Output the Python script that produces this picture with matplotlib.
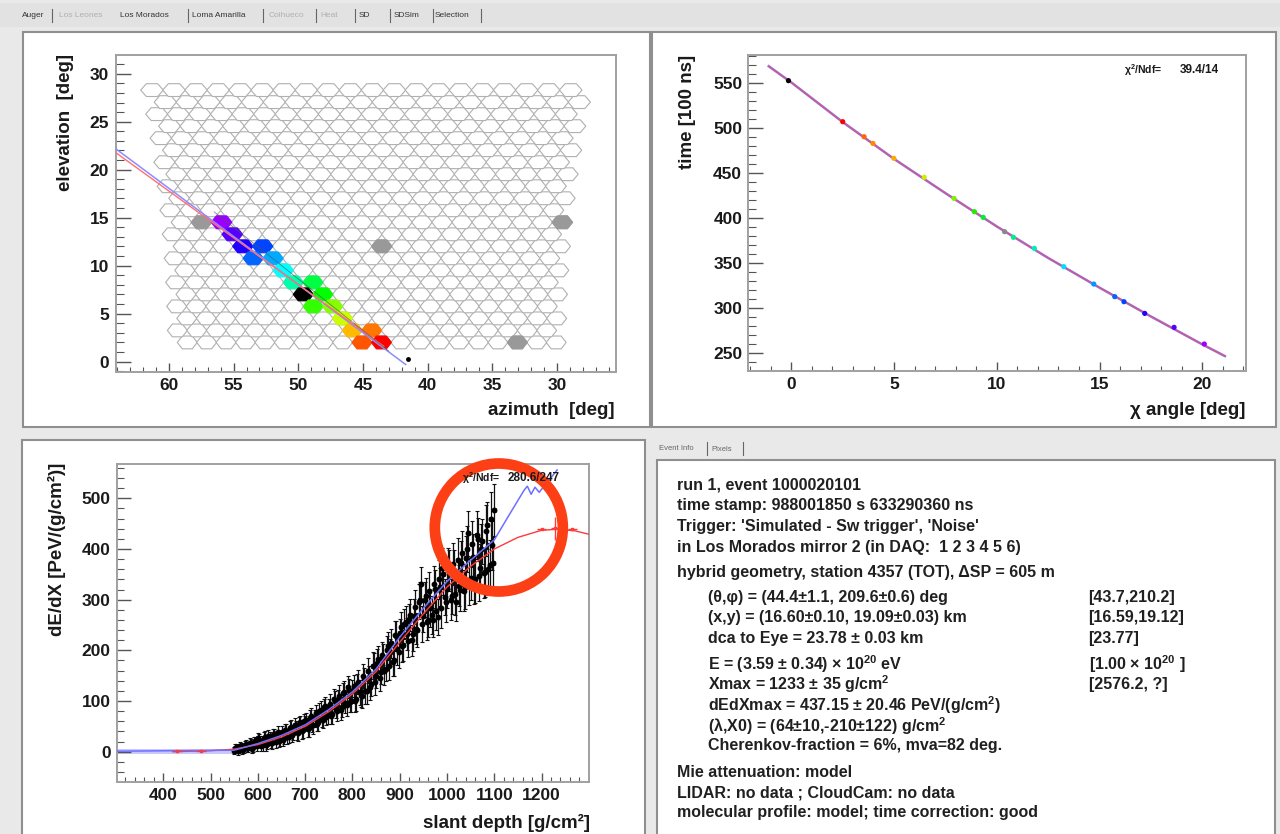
import numpy as np
import matplotlib.pyplot as plt
from matplotlib.patches import Rectangle, Circle
from matplotlib.collections import PolyCollection
from matplotlib.ticker import MultipleLocator

W, H = 1280, 834

plt.rcParams['font.family'] = ['Liberation Sans', 'DejaVu Sans']
plt.rcParams['font.weight'] = 'bold'
plt.rcParams['mathtext.fontset'] = 'custom'
plt.rcParams['mathtext.rm'] = 'Liberation Sans:bold'
plt.rcParams['mathtext.it'] = 'Liberation Sans:bold:italic'
plt.rcParams['mathtext.bf'] = 'Liberation Sans:bold'

# ---- camera (22 rows x 20 columns) and hit pixels
n_rows, n_cols = 22, 20
row_elev0, row_step, cam_centre_az = 2.0, 1.252, 44.7
hit_row = [10, 9, 8, 8, 7, 7, 6, 5, 5, 4, 4, 3, 3, 2, 1, 1, 0, 0]
hit_col = [2, 3, 3, 4, 4, 5, 5, 6, 7, 6, 7, 7, 8, 8, 9, 10, 9, 10]
hit_color = ['#9900ff', '#5500ff', '#2200ff', '#0044ff', '#0066ff', '#00aaff',
             '#00ffff', '#00ffaa', '#00ff44', '#000000', '#00ff00', '#33ff00',
             '#88ff00', '#ccff00', '#ffbb00', '#ff7700', '#ff5500', '#ff0000']
noise_row = [10, 8, 10, 0]
noise_col = [1, 10, 19, 17]
# shower-detector-plane lines
sdp_blue_az = [64.13, 41.7]
sdp_blue_el = [22.2, -0.3]
sdp_red_az = [64.13, 43.4]
sdp_red_el = [21.8, 1.6]

# ---- time fit
chi_deg = [-0.14, 2.5, 3.54, 3.97, 4.99, 6.47, 7.92, 8.91, 9.34, 10.38, 10.81,
           11.83, 13.26, 14.72, 15.74, 16.19, 17.2, 18.63, 20.1]
t_100ns = [553, 507.4, 490.7, 483.3, 466.7, 445.6, 422.2, 407.4, 401.1, 385.2,
           378.9, 366.7, 346.3, 327.0, 313.0, 307.4, 294.4, 278.9, 260.4]
t_colors = ['#000000', '#ff0000', '#ff6600', '#ff8800', '#ffaa00', '#ccee00',
            '#88ee00', '#22ee00', '#00ee33', '#888888', '#00ee88', '#00eebb',
            '#00ddff', '#0099ff', '#0066ff', '#0044ff', '#2200ff', '#5500ff', '#9900ff']
fit_chi = [-1.1, 0, 2.5, 5, 7.5, 10, 12.5, 15, 17.5, 20, 21.1]
fit_t = [569, 551, 507, 466, 428, 391, 356, 323, 291, 260, 247]

# ---- longitudinal profile (two interleaved sets of bins)
depth = list(range(550, 1101, 5))
dedx = [2, 10, 5, 11, 5, 16, 8, 17, 9, 22,
        27, 22, 13, 30, 15, 27, 17, 35, 29, 22,
        38, 27, 41, 30, 48, 36, 48, 36, 58, 43,
        57, 44, 66, 53, 66, 55, 80, 66, 88, 69,
        86, 71, 104, 85, 102, 82, 115, 96, 128, 99,
        120, 100, 134, 117, 109, 143, 120, 148, 133, 169,
        150, 182, 158, 186, 164, 208, 196, 178, 230, 202,
        234, 208, 252, 232, 262, 220, 268, 242, 296, 330,
        268, 308, 260, 283, 260, 321, 266, 325, 362, 305,
        322, 358, 308, 356, 296, 328, 372, 318, 382, 431,
        342, 385, 340, 419, 362, 415, 354, 447, 368, 407,
        477]
dedx_err = [7, 6, 8, 7, 8, 7, 9, 8, 9, 8,
            10, 9, 11, 10, 10, 11, 12, 10, 11, 12,
            12, 11, 13, 12, 14, 12, 13, 14, 13, 15,
            14, 15, 16, 14, 17, 15, 16, 18, 16, 17,
            18, 17, 19, 18, 20, 19, 21, 19, 22, 20,
            21, 22, 20, 24, 22, 23, 25, 22, 24, 26,
            24, 26, 25, 27, 25, 28, 26, 29, 27, 30,
            28, 30, 29, 32, 30, 31, 33, 30, 34, 35,
            32, 34, 33, 36, 34, 37, 35, 38, 40, 36,
            38, 40, 37, 42, 39, 41, 44, 40, 43, 45,
            42, 44, 46, 43, 47, 45, 48, 46, 50, 48,
            52]
depth_b = [550 + 2.5 + 5 * i for i in range(110)]
dedx_b = [8, 1, 12, 4, 14, 7, 18, 6, 20, 11,
          24, 12, 28, 14, 31, 18, 33, 20, 38, 24,
          24, 42, 29, 46, 33, 52, 38, 55, 40, 60,
          62, 46, 70, 52, 76, 58, 82, 63, 90, 72,
          95, 74, 100, 80, 110, 88, 118, 92, 122, 100,
          130, 104, 138, 112, 150, 120, 160, 128, 170, 138,
          176, 146, 190, 160, 200, 170, 214, 180, 228, 196,
          246, 210, 256, 218, 270, 232, 286, 240, 300, 252,
          300, 256, 318, 270, 330, 278, 340, 284, 350, 296,
          362, 300, 370, 312, 378, 320, 392, 326, 400, 336,
          410, 338, 428, 346, 400, 352, 436, 360, 460, 372]
dedx_b_err = [7, 8, 7, 9, 8, 8, 9, 9, 10, 9,
              10, 11, 10, 12, 11, 11, 12, 12, 13, 12,
              12, 13, 13, 14, 13, 14, 15, 14, 15, 15,
              15, 16, 16, 17, 16, 17, 18, 17, 18, 18,
              19, 19, 20, 20, 21, 20, 22, 21, 22, 22,
              22, 23, 23, 24, 24, 25, 25, 26, 26, 27,
              26, 27, 27, 28, 28, 29, 29, 30, 30, 31,
              30, 31, 31, 32, 32, 33, 33, 34, 35, 35,
              35, 36, 36, 37, 37, 38, 38, 39, 40, 40,
              40, 41, 41, 42, 43, 43, 44, 45, 45, 46,
              46, 47, 47, 48, 49, 49, 50, 51, 52, 52]
gh_x = [420, 500, 550, 600, 650, 700, 750, 800, 850, 900, 950, 1000, 1050,
        1100, 1150, 1200, 1233, 1270, 1301]
gh_y = [0, 2, 5, 14, 29, 50, 79, 114, 158, 216, 272, 325, 366, 400, 423, 437,
        439, 436, 429]
blue_x = [302, 550, 600, 650, 700, 750, 800, 850, 900, 950, 1000, 1050, 1100,
          1130, 1163, 1170, 1178, 1186, 1195, 1233]
blue_y = [1, 3, 16, 32, 53, 83, 118, 163, 226, 283, 336, 378, 418, 465, 516,
          524, 508, 522, 512, 556]
red_pt_x = [430, 480, 1200, 1229, 1265]
red_pt_y = [1, 2, 440, 441, 440]
red_pt_err = [0, 0, 0, 23, 0]

info_lines = ["run 1, event 1000020101",
              "time stamp: 988001850 s 633290360 ns",
              "Trigger: 'Simulated - Sw trigger', 'Noise'",
              "in Los Morados mirror 2 (in DAQ:  1 2 3 4 5 6)",
              "hybrid geometry, station 4357 (TOT), ΔSP = 605 m",
              "(θ,φ) = (44.4±1.1, 209.6±0.6) deg",
              "(x,y) = (16.60±0.10, 19.09±0.03) km",
              "dca to Eye = 23.78 ± 0.03 km",
              "E = (3.59 ± 0.34) × 10$^{20}$ eV",
              "Xmax = 1233 ± 35 g/cm$^{2}$",
              "dEdXmax = 437.15 ± 20.46 PeV/(g/cm$^{2}$)",
              "(λ,X0) = (64±10,-210±122) g/cm$^{2}$",
              "Cherenkov-fraction = 6%, mva=82 deg.",
              "Mie attenuation: model",
              "LIDAR: no data ; CloudCam: no data",
              "molecular profile: model; time correction: good"]
info_indent = [0, 0, 0, 0, 0, 1, 1, 1, 1, 1, 1, 1, 1, 0, 0, 0]
info_y = [485, 505.7, 526.7, 547.3, 572.7, 597.3, 617.7, 638.3, 664, 684.3,
          705, 725.7, 745.7, 772.3, 792.7, 812.7]
mc_values = ["[43.7,210.2]", "[16.59,19.12]", "[23.77]",
             "[1.00 × 10$^{20}$ ]", "[2576.2, ?]"]

tabs = ["Auger", "Los Leones", "Los Morados", "Loma Amarilla", "Coihueco",
        "Heat", "SD", "SDSim", "Selection"]
tab_x = [22, 59, 120, 192, 269, 320, 359, 394, 435]
tab_active = [True, False, True, True, False, False, True, True, True]


def px_rect(x0, y0, x1, y1):
    return [x0 / W, 1 - y1 / H, (x1 - x0) / W, (y1 - y0) / H]


def root_style(ax, xmaj, xmin, ymaj, ymin, xlen, ylen):
    for s in ax.spines.values():
        s.set_color('#a0a0a0')
        s.set_linewidth(1.4)
    ax.xaxis.set_major_locator(MultipleLocator(xmaj))
    ax.xaxis.set_minor_locator(MultipleLocator(xmin))
    ax.yaxis.set_major_locator(MultipleLocator(ymaj))
    ax.yaxis.set_minor_locator(MultipleLocator(ymin))
    ax.tick_params(which='both', direction='in', color='#555555',
                   top=False, right=False, labelsize=12.5, labelcolor='#1a1a1a')
    ax.tick_params(axis='x', which='major', length=xlen, width=1.0, pad=4.5)
    ax.tick_params(axis='x', which='minor', length=xlen / 2, width=0.8)
    ax.tick_params(axis='y', which='major', length=ylen, width=1.0, pad=4.5)
    ax.tick_params(axis='y', which='minor', length=ylen / 2, width=0.8)


fig = plt.figure(figsize=(W / 100, H / 100), dpi=100, facecolor='#e9e9e9')

# background / panels in pixel coordinates
bg = fig.add_axes([0, 0, 1, 1], zorder=0)
bg.set_xlim(0, W)
bg.set_ylim(H, 0)
bg.axis('off')
bg.add_patch(Rectangle((0, 3), W, 24, fc='#e2e2e2', ec='none'))
for rect in [(22.7, 31.7, 650, 427), (652, 31.7, 1276, 427),
             (22, 440, 645, 845), (657, 460, 1274.5, 845)]:
    bg.add_patch(Rectangle((rect[0], rect[1]), rect[2] - rect[0], rect[3] - rect[1],
                           fc='white', ec='#8f8f8f', lw=1.5))
for name, x, act in zip(tabs, tab_x, tab_active):
    bg.text(x, 15, name, fontsize=6, fontweight='normal', va='center',
            color='#333333' if act else '#b0b0b0')
for x in [52, 188, 263, 316, 355, 390, 433, 481]:
    bg.plot([x, x], [9, 22], color='#666666', lw=0.8)
bg.text(659, 448, "Event Info", fontsize=5.5, fontweight='normal', va='center', color='#666666')
bg.plot([707, 707], [442, 455], color='#666666', lw=0.8)
bg.text(711, 449, "Pixels", fontsize=5.5, fontweight='normal', va='center', color='#666666')
bg.plot([743, 743], [442, 455], color='#666666', lw=0.8)

# event info text
for line, ind, y in zip(info_lines, info_indent, info_y):
    bg.text(708.2 if ind else 677.3, y, line, fontsize=11.5, va='center', color='#202020')
for val, y in zip(mc_values, info_y[5:10]):
    bg.text(1088.6, y, val, fontsize=11.5, va='center', color='#202020')

# axis titles
bg.text(65, 54, "elevation  [deg]", rotation=90, ha='center', va='top', fontsize=13.5, color='#1a1a1a')
bg.text(615, 410, "azimuth  [deg]", ha='right', va='center', fontsize=13.5, color='#1a1a1a')
bg.text(687, 55, "time [100 ns]", rotation=90, ha='center', va='top', fontsize=13.5, color='#1a1a1a')
bg.text(1245, 410, "χ angle [deg]", ha='right', va='center', fontsize=13.5, color='#1a1a1a')
bg.text(57, 463, "dE/dX [PeV/(g/cm²)]", rotation=90, ha='center', va='top', fontsize=13.5, color='#1a1a1a')
bg.text(590, 823, "slant depth [g/cm²]", ha='right', va='center', fontsize=13.5, color='#1a1a1a')

# ---- camera view
ax1 = fig.add_axes(px_rect(115.5, 55, 615.5, 371.7), zorder=1)
angles = np.radians(np.arange(0, 360, 60))


def pixel_pos(r, c):
    el = row_elev0 + r * row_step
    st = 1 / np.cos(np.radians(el))
    off = 0.375 if r % 2 else -0.375
    return cam_centre_az + ((9.5 - c) * 1.5 + off) * st, el


def hex_verts(r, c):
    az, el = pixel_pos(r, c)
    st = 1 / np.cos(np.radians(el))
    return np.column_stack([az + 0.77 * st * np.cos(angles), el + 0.77 * np.sin(angles)])


grid = [hex_verts(r, c) for r in range(n_rows) for c in range(n_cols)]
ax1.add_collection(PolyCollection(grid, facecolors='white', edgecolors='#b0b0b0', linewidths=0.8, zorder=1))
noise = [hex_verts(r, c) for r, c in zip(noise_row, noise_col)]
ax1.add_collection(PolyCollection(noise, facecolors='#999999', edgecolors='#999999', linewidths=0.8, zorder=2))
hits = [hex_verts(r, c) for r, c in zip(hit_row, hit_col)]
ax1.add_collection(PolyCollection(hits, facecolors=hit_color, edgecolors=hit_color, linewidths=0.8, zorder=2))
ax1.plot(sdp_blue_az, sdp_blue_el, color='#8c8cff', lw=1.1, zorder=3)
ax1.plot(sdp_red_az, sdp_red_el, color='#ff7070', lw=1.0, zorder=3)
ax1.plot([56.5, 43.0], [15.6, 1.1], color='#555555', lw=0.6, alpha=0.7, zorder=3)
ax1.plot([41.5], [0.3], 'o', color='black', ms=2.5, zorder=4)
ax1.set_xlim(64.13, 25.48)
ax1.set_ylim(-1.05, 31.95)
root_style(ax1, 5, 1, 5, 1, 6.8, 11)

# ---- time fit
ax2 = fig.add_axes(px_rect(748.4, 55, 1245.6, 371), zorder=1)
ax2.plot(fit_chi, fit_t, color='#7a7aff', lw=1.8)
ax2.plot(fit_chi, fit_t, color='#ff4a4a', lw=0.9, alpha=0.8)
ax2.scatter(chi_deg, t_100ns, s=14, c=t_colors, zorder=3, linewidths=0)
ax2.set_xlim(-2.09, 22.11)
ax2.set_ylim(230.4, 581.5)
root_style(ax2, 5, 1, 50, 10, 6.8, 11)

# ---- longitudinal profile
ax3 = fig.add_axes(px_rect(117.1, 464, 588.6, 781.7), zorder=1)
ax3.fill_between([302, 560], [-5, -5], [6, 6], color='#c8c8ff', lw=0)
for xs, ys, es in [(depth, dedx, dedx_err), (depth_b, dedx_b, dedx_b_err)]:
    ax3.errorbar(xs, ys, yerr=es, xerr=3, fmt='o', ms=3.2, color='black',
                 ecolor='#111111', elinewidth=0.9, capsize=1.5, capthick=0.8, zorder=2)
ax3.plot(gh_x, gh_y, color='#ff3a3a', lw=1.0, zorder=3)
ax3.plot(blue_x, blue_y, color='#6f6fff', lw=1.1, zorder=3)
ax3.errorbar(red_pt_x, red_pt_y, yerr=red_pt_err, xerr=10, fmt='s', ms=2,
             color='#ff3a3a', elinewidth=1.0, zorder=4)
ax3.set_xlim(302.3, 1299.5)
ax3.set_ylim(-59.2, 567.8)
root_style(ax3, 100, 20, 100, 20, 6.8, 10)

# overlay: fit statistics and highlight circle
top = fig.add_axes([0, 0, 1, 1], zorder=10)
top.set_xlim(0, W)
top.set_ylim(H, 0)
top.axis('off')
top.patch.set_alpha(0)
top.text(1124, 70, "χ$^{2}$/Ndf=", fontsize=7.5, va='center', color='#1a1a1a')
top.text(1180, 70, "39.4/14", fontsize=8.5, va='center', color='#1a1a1a')
top.text(461.7, 478, "χ$^{2}$/Ndf=", fontsize=7.5, va='center', color='#1a1a1a')
top.text(508, 478, "280.6/247", fontsize=8.5, va='center', color='#1a1a1a')
top.add_patch(Circle((498.8, 527.5), 64, fill=False, ec='#fc3f14', lw=7.7))

fig.savefig('out.png', dpi=100, facecolor=fig.get_facecolor())
